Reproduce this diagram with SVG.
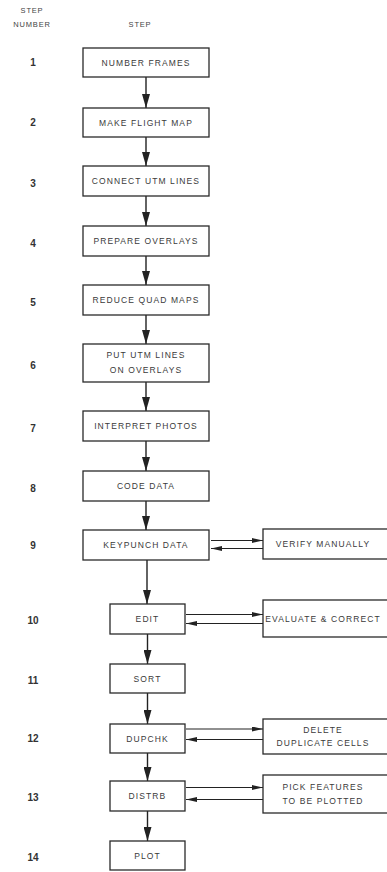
<svg xmlns="http://www.w3.org/2000/svg" width="387" height="872" viewBox="0 0 387 872">
<defs>
<marker id="ah" viewBox="0 0 14 8" markerWidth="14" markerHeight="8" refX="14" refY="4" orient="auto" markerUnits="userSpaceOnUse"><path d="M0,0 L14,4 L0,8 z" fill="#222"/></marker>
<marker id="ahs" viewBox="0 0 11 5" markerWidth="11" markerHeight="5" refX="11" refY="2.5" orient="auto" markerUnits="userSpaceOnUse"><path d="M0,0 L11,2.5 L0,5 z" fill="#222"/></marker>
<style>
.b{fill:#fff;stroke:#2a2a2a;stroke-width:1.3}
.t{font-family:"Liberation Sans",Arial,sans-serif;font-size:8.5px;letter-spacing:1.1px;fill:#3a3a3a;text-anchor:middle;dominant-baseline:central}
.n{font-family:"Liberation Sans",Arial,sans-serif;font-size:10px;font-weight:bold;fill:#333;text-anchor:middle;dominant-baseline:central}
.h{font-family:"Liberation Sans",Arial,sans-serif;font-size:7.5px;letter-spacing:0.8px;fill:#444;text-anchor:middle;dominant-baseline:central}
.v{stroke:#222;stroke-width:1.4;fill:none;marker-end:url(#ah)}
.a{stroke:#222;stroke-width:1.1;fill:none;marker-end:url(#ahs)}
</style>
</defs>
<rect width="387" height="872" fill="#fff"/>
<g id="header">
<text class="h" x="32" y="10">STEP</text>
<text class="h" x="32" y="24">NUMBER</text>
<text class="h" x="140" y="24">STEP</text>
</g>
<g id="numbers">
<text class="n" x="33" y="62">1</text>
<text class="n" x="33" y="122">2</text>
<text class="n" x="33" y="183">3</text>
<text class="n" x="33" y="243">4</text>
<text class="n" x="33" y="302">5</text>
<text class="n" x="33" y="365">6</text>
<text class="n" x="33" y="428">7</text>
<text class="n" x="33" y="488">8</text>
<text class="n" x="33" y="545">9</text>
<text class="n" x="33" y="620">10</text>
<text class="n" x="33" y="680">11</text>
<text class="n" x="33" y="738">12</text>
<text class="n" x="33" y="797">13</text>
<text class="n" x="33" y="857">14</text>
</g>
<g id="connectors">
<line class="v" x1="146" y1="77" x2="146" y2="108"/>
<line class="v" x1="146" y1="137" x2="146" y2="166"/>
<line class="v" x1="146" y1="196" x2="146" y2="226"/>
<line class="v" x1="146" y1="256" x2="146" y2="285"/>
<line class="v" x1="146" y1="315" x2="146" y2="344"/>
<line class="v" x1="146" y1="382" x2="146" y2="411"/>
<line class="v" x1="146" y1="441" x2="146" y2="471"/>
<line class="v" x1="146" y1="501" x2="146" y2="530"/>
<line class="v" x1="147" y1="560" x2="147" y2="604"/>
<line class="v" x1="147.5" y1="634" x2="147.5" y2="664"/>
<line class="v" x1="147.5" y1="693" x2="147.5" y2="724"/>
<line class="v" x1="147.5" y1="753" x2="147.5" y2="781"/>
<line class="v" x1="147.5" y1="811" x2="147.5" y2="841"/>
<line class="a" x1="211" y1="540.5" x2="263" y2="540.5"/>
<line class="a" x1="263" y1="548.5" x2="211" y2="548.5"/>
<line class="a" x1="186" y1="614.5" x2="263" y2="614.5"/>
<line class="a" x1="263" y1="623.5" x2="186" y2="623.5"/>
<line class="a" x1="186" y1="729" x2="263" y2="729"/>
<line class="a" x1="263" y1="739.5" x2="186" y2="739.5"/>
<line class="a" x1="186" y1="787.5" x2="263" y2="787.5"/>
<line class="a" x1="263" y1="799.5" x2="186" y2="799.5"/>
</g>
<g id="s1"><rect class="b" x="83" y="48" width="126" height="29"/><text class="t" x="146" y="62.5">NUMBER FRAMES</text></g>
<g id="s2"><rect class="b" x="83" y="108" width="126" height="29"/><text class="t" x="146" y="122.5">MAKE FLIGHT MAP</text></g>
<g id="s3"><rect class="b" x="83" y="166" width="126" height="30"/><text class="t" x="146" y="181">CONNECT UTM LINES</text></g>
<g id="s4"><rect class="b" x="83" y="226" width="126" height="30"/><text class="t" x="146" y="241">PREPARE OVERLAYS</text></g>
<g id="s5"><rect class="b" x="83" y="285" width="126" height="30"/><text class="t" x="146" y="300">REDUCE QUAD MAPS</text></g>
<g id="s6"><rect class="b" x="83" y="344" width="126" height="38"/><text class="t" x="146" y="355">PUT UTM LINES</text><text class="t" x="146" y="370">ON OVERLAYS</text></g>
<g id="s7"><rect class="b" x="83" y="411" width="126" height="30"/><text class="t" x="146" y="426">INTERPRET PHOTOS</text></g>
<g id="s8"><rect class="b" x="83" y="471" width="126" height="30"/><text class="t" x="146" y="486">CODE DATA</text></g>
<g id="s9"><rect class="b" x="83" y="530" width="126" height="30"/><text class="t" x="146" y="545">KEYPUNCH DATA</text></g>
<g id="verify"><rect class="b" x="263" y="529" width="130" height="30"/><text class="t" x="323" y="544">VERIFY MANUALLY</text></g>
<g id="s10"><rect class="b" x="110" y="604" width="75" height="30"/><text class="t" x="147.5" y="619">EDIT</text></g>
<g id="evaluate"><rect class="b" x="263" y="600" width="130" height="37"/><text class="t" x="323" y="618.5">EVALUATE &amp; CORRECT</text></g>
<g id="s11"><rect class="b" x="110" y="664" width="75" height="29"/><text class="t" x="147.5" y="678.5">SORT</text></g>
<g id="s12"><rect class="b" x="110" y="724" width="75" height="29"/><text class="t" x="147.5" y="738.5">DUPCHK</text></g>
<g id="delete"><rect class="b" x="263" y="719" width="130" height="35"/><text class="t" x="323" y="729.5">DELETE</text><text class="t" x="323" y="742.5">DUPLICATE CELLS</text></g>
<g id="s13"><rect class="b" x="110" y="781" width="75" height="30"/><text class="t" x="147.5" y="796">DISTRB</text></g>
<g id="pick"><rect class="b" x="263" y="775" width="130" height="38"/><text class="t" x="323" y="786.5">PICK FEATURES</text><text class="t" x="323" y="801">TO BE PLOTTED</text></g>
<g id="s14"><rect class="b" x="110" y="841" width="75" height="29"/><text class="t" x="147.5" y="855.5">PLOT</text></g>
</svg>
